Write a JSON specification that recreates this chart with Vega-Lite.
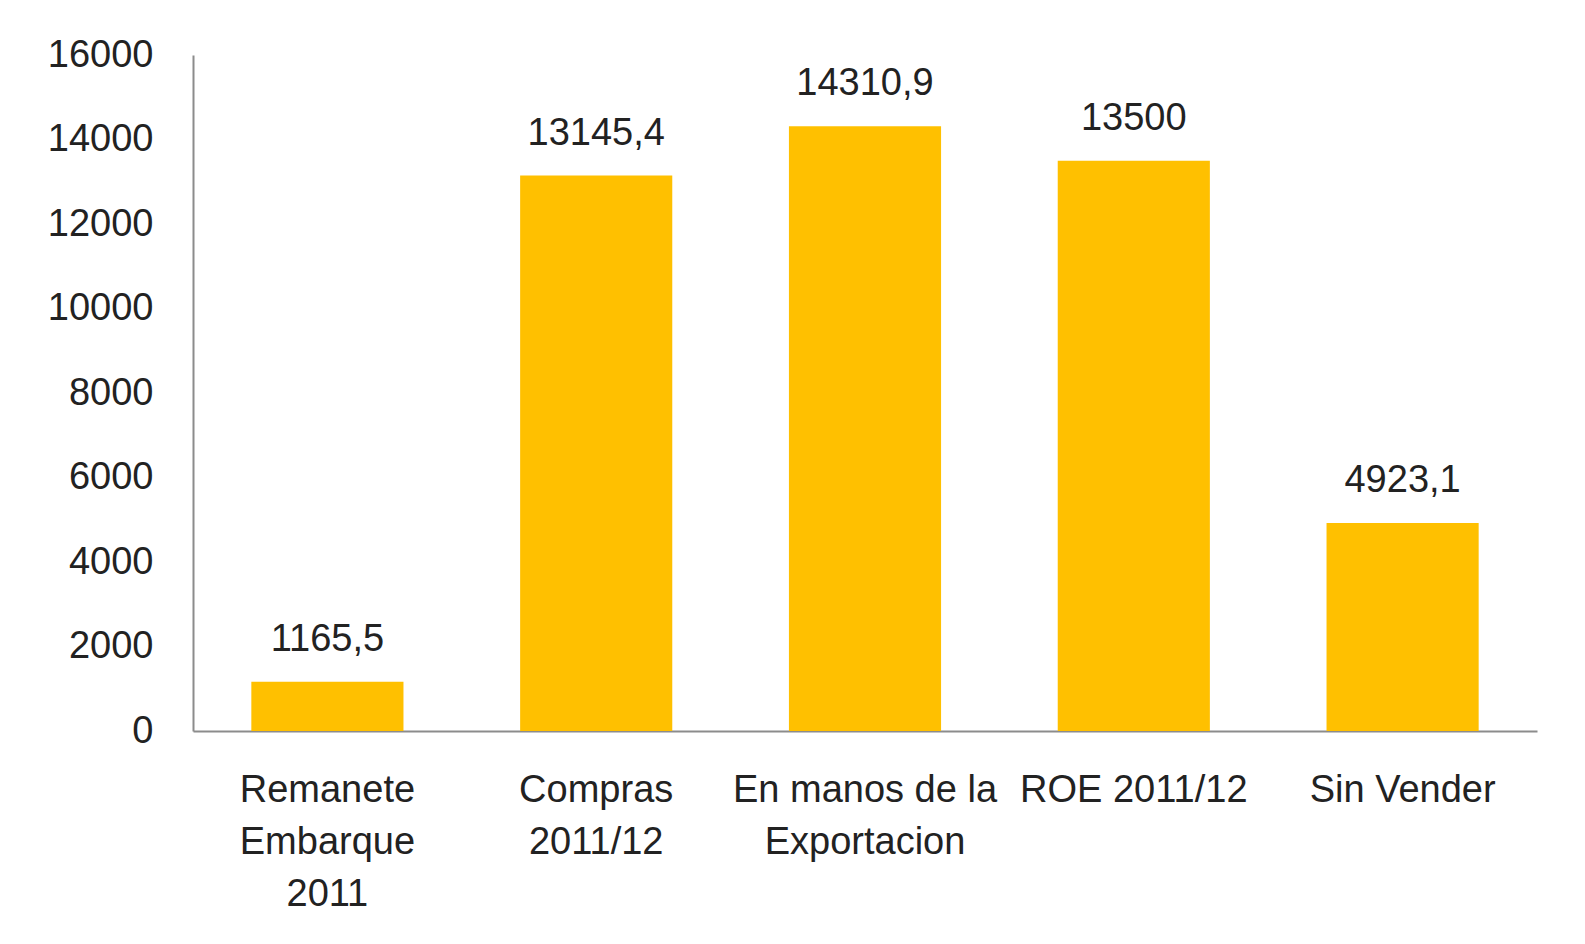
{
  "$schema": "https://vega.github.io/schema/vega-lite/v6.json",
  "autosize": "none",
  "width": 1344,
  "height": 676,
  "padding": {"left": 193, "top": 55, "right": 48, "bottom": 213},
  "background": "white",
  "config": {
    "locale": {"number": {"decimal": ",", "thousands": ".", "grouping": [3], "currency": ["", ""]}},
    "view": {"stroke": null},
    "font": "Liberation Sans"
  },
  "data": {
    "values": [
      {"categoria": "Remanete Embarque 2011", "valor": 1165.5},
      {"categoria": "Compras 2011/12", "valor": 13145.4},
      {"categoria": "En manos de la Exportacion", "valor": 14310.9},
      {"categoria": "ROE 2011/12", "valor": 13500},
      {"categoria": "Sin Vender", "valor": 4923.1}
    ]
  },
  "encoding": {
    "x": {
      "field": "categoria",
      "type": "nominal",
      "sort": null,
      "title": null,
      "scale": {"paddingInner": 0.434, "paddingOuter": 0.217},
      "axis": {
        "labelAngle": 0,
        "labelFontSize": 38,
        "labelColor": "#222222",
        "labelPadding": 40,
        "labelBaseline": "top",
        "labelLineHeight": 52,
        "labelLimit": 0,
        "ticks": false,
        "domainColor": "#8c8c8c",
        "domainWidth": 2,
        "labelExpr": "datum.value == 'Remanete Embarque 2011' ? ['Remanete', 'Embarque', '2011'] : datum.value == 'Compras 2011/12' ? ['Compras', '2011/12'] : datum.value == 'En manos de la Exportacion' ? ['En manos de la', 'Exportacion'] : datum.value"
      }
    },
    "y": {
      "field": "valor",
      "type": "quantitative",
      "title": null,
      "scale": {"domain": [0, 16000], "nice": false},
      "axis": {
        "values": [0, 2000, 4000, 6000, 8000, 10000, 12000, 14000, 16000],
        "format": "d",
        "labelFontSize": 38,
        "labelColor": "#222222",
        "labelPadding": 40,
        "ticks": false,
        "grid": false,
        "domainColor": "#8c8c8c",
        "domainWidth": 2
      }
    }
  },
  "layer": [
    {"mark": {"type": "bar", "color": "#FFC000"}},
    {
      "mark": {"type": "text", "baseline": "alphabetic", "dy": -31, "fontSize": 38, "color": "#222222"},
      "encoding": {"text": {"field": "valor", "type": "quantitative", "format": ".1~f"}}
    }
  ]
}
